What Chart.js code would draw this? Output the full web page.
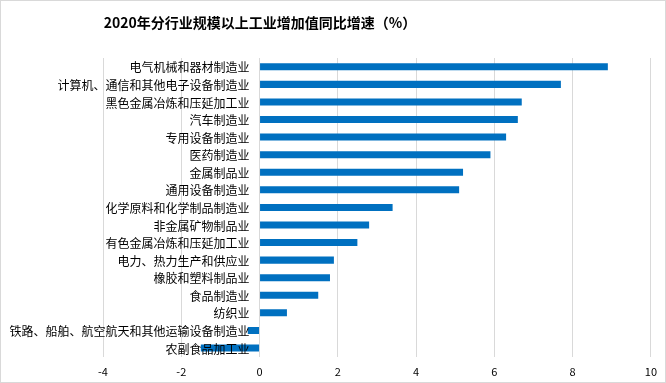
<!DOCTYPE html>
<html lang="zh">
<head>
  <meta charset="UTF-8">
  <title>2020年分行业规模以上工业增加值同比增速</title>
  <script src="https://cdn.jsdelivr.net/npm/chart.js"></script>
  <style>
    html, body {
      margin: 0;
      padding: 0;
      background: white;
    }
    .frame {
      width: 666px;
      height: 383px;
      box-sizing: border-box;
      border: 1px solid #d9d9d9;
      position: relative;
    }
    canvas {
      display: block;
    }
  </style>
</head>
<body>
  <div class="frame">
    <canvas id="growthChart" width="664" height="381"></canvas>
  </div>

  <script>
    const chartTitle = '2020年分行业规模以上工业增加值同比增速（%）';

    // 行业名称（从上到下）
    const industries = [
      '电气机械和器材制造业',
      '计算机、通信和其他电子设备制造业',
      '黑色金属冶炼和压延加工业',
      '汽车制造业',
      '专用设备制造业',
      '医药制造业',
      '金属制品业',
      '通用设备制造业',
      '化学原料和化学制品制造业',
      '非金属矿物制品业',
      '有色金属冶炼和压延加工业',
      '电力、热力生产和供应业',
      '橡胶和塑料制品业',
      '食品制造业',
      '纺织业',
      '铁路、船舶、航空航天和其他运输设备制造业',
      '农副食品加工业'
    ];

    // 同比增速（%）
    const growth = [8.9, 7.7, 6.7, 6.6, 6.3, 5.9, 5.2, 5.1, 3.4, 2.8, 2.5, 1.9, 1.8, 1.5, 0.7, -0.3, -1.5];

    const xMin = -4, xMax = 10, xStep = 2;

    // 标题画在偏左的位置（原图如此）
    const titlePlugin = {
      id: 'offsetTitle',
      afterDraw(chart) {
        const ctx = chart.ctx;
        ctx.save();
        ctx.font = 'bold 14px "Noto Sans CJK SC"';
        ctx.fillStyle = '#000';
        ctx.textAlign = 'center';
        ctx.textBaseline = 'middle';
        ctx.fillText(chartTitle, 259, 22);
        ctx.restore();
      }
    };

    // 类别标签贴着0轴左侧，压在柱子上面
    const labelPlugin = {
      id: 'zeroLabels',
      afterDatasetsDraw(chart) {
        const ctx = chart.ctx;
        const x0 = chart.scales.x.getPixelForValue(0);
        const yScale = chart.scales.y;
        ctx.save();
        ctx.font = '12px "Noto Sans CJK SC"';
        ctx.fillStyle = '#000';
        ctx.textAlign = 'right';
        ctx.textBaseline = 'middle';
        industries.forEach((name, i) => {
          ctx.fillText(name, x0 - 10, yScale.getPixelForTick(i) + 1);
        });
        ctx.restore();
      }
    };

    new Chart(document.getElementById('growthChart'), {
      type: 'bar',
      data: {
        labels: industries,
        datasets: [{
          data: growth,
          backgroundColor: '#0070c0',
          barPercentage: 0.4,
          categoryPercentage: 1.0
        }]
      },
      options: {
        indexAxis: 'y',
        responsive: false,
        animation: false,
        layout: {
          padding: { left: 102, right: 13, top: 57, bottom: -4 }
        },
        plugins: {
          legend: { display: false },
          title: { display: false },
          tooltip: { enabled: false }
        },
        scales: {
          x: {
            min: xMin,
            max: xMax,
            ticks: {
              stepSize: xStep,
              color: '#000',
              padding: 8,
              font: { family: '"Noto Sans CJK SC"', size: 11 }
            },
            grid: { color: '#d9d9d9', drawTicks: false },
            border: { display: false }
          },
          y: {
            position: { x: 0 },
            ticks: { display: false },
            grid: { display: false, drawTicks: false },
            border: { display: false }
          }
        }
      },
      plugins: [titlePlugin, labelPlugin]
    });
  </script>
</body>
</html>
